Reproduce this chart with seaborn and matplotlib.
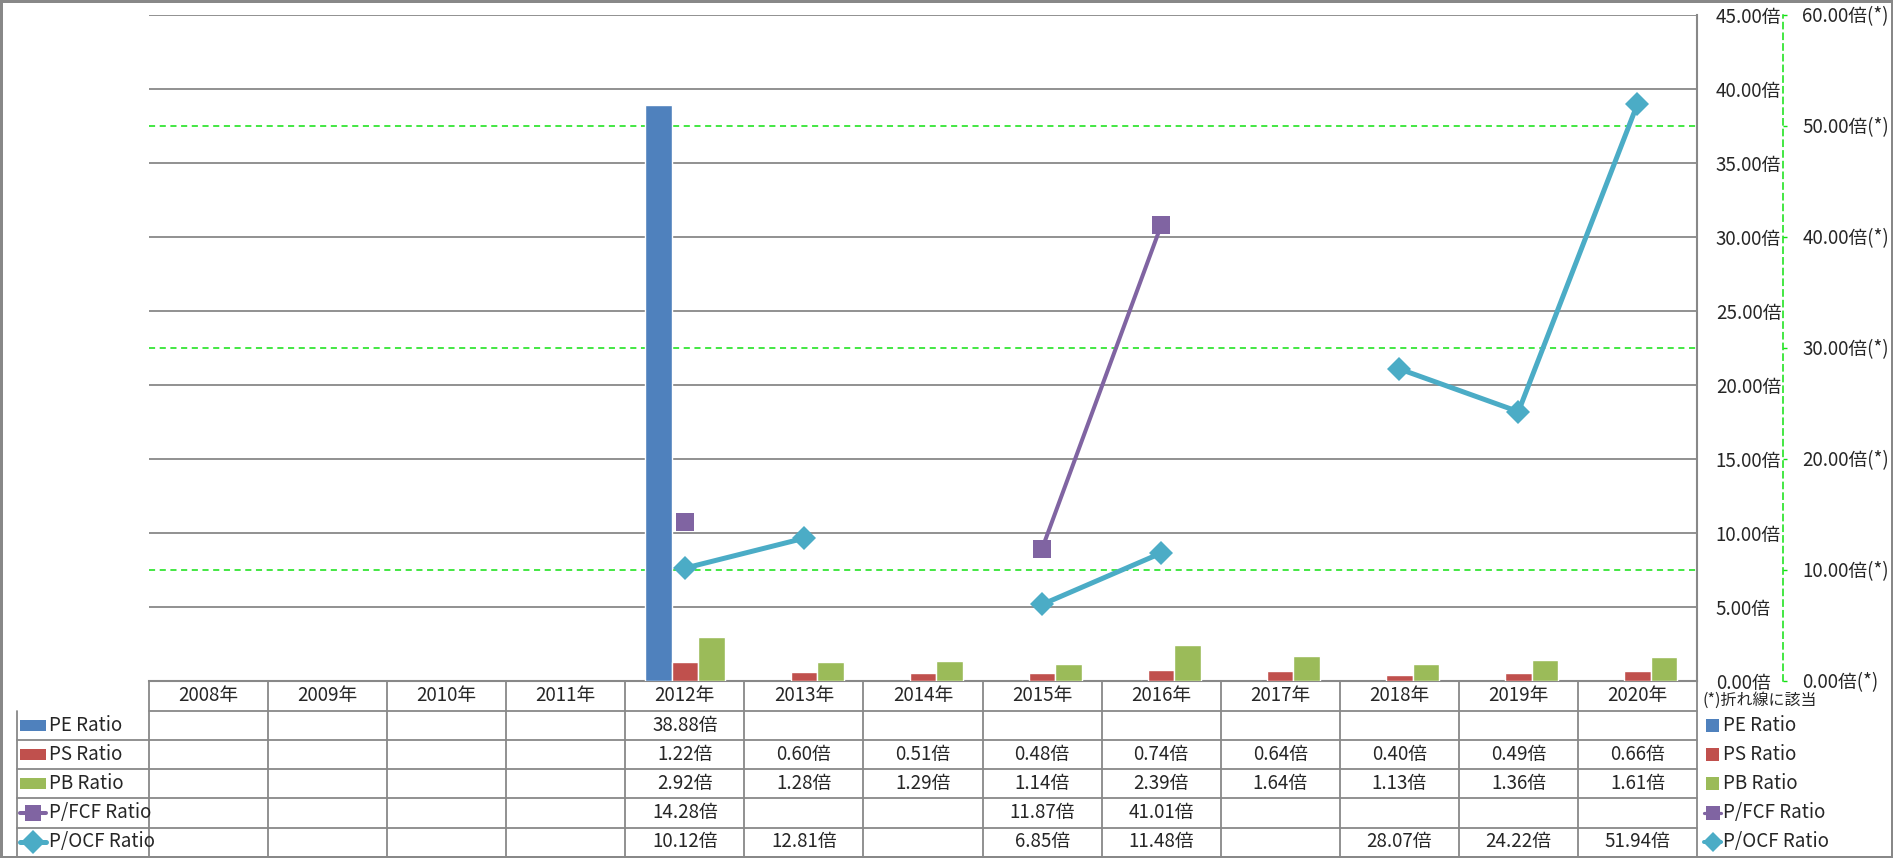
import numpy as np
import pandas as pd
import matplotlib
matplotlib.use("Agg")
import matplotlib.pyplot as plt
import seaborn as sns
from matplotlib.lines import Line2D
from matplotlib.patches import Rectangle
from matplotlib.ticker import FuncFormatter

# données
years = ["2008年", "2009年", "2010年", "2011年", "2012年", "2013年", "2014年",
         "2015年", "2016年", "2017年", "2018年", "2019年", "2020年"]
nan = np.nan
pe_ratio = [nan, nan, nan, nan, 38.88, nan, nan, nan, nan, nan, nan, nan, nan]
ps_ratio = [nan, nan, nan, nan, 1.22, 0.60, 0.51, 0.48, 0.74, 0.64, 0.40, 0.49, 0.66]
pb_ratio = [nan, nan, nan, nan, 2.92, 1.28, 1.29, 1.14, 2.39, 1.64, 1.13, 1.36, 1.61]
pfcf_ratio = [nan, nan, nan, nan, 14.28, nan, nan, 11.87, 41.01, nan, nan, nan, nan]
pocf_ratio = [nan, nan, nan, nan, 10.12, 12.81, nan, 6.85, 11.48, nan, 28.07, 24.22, 51.94]

bar_names = ["PE Ratio", "PS Ratio", "PB Ratio"]
bar_colors = ["#4F81BD", "#C0504D", "#9BBB59"]
line_names = ["P/FCF Ratio", "P/OCF Ratio"]
line_colors = ["#8064A2", "#4BACC6"]
line_markers = ["s", "D"]
line_widths = [2.9, 3.6]
line_values = [pfcf_ratio, pocf_ratio]

GRAY = "#888888"
GREEN = "#11E011"

sns.set_style("white")
plt.rcParams["font.family"] = ["Noto Sans CJK JP", "DejaVu Sans"]

W, H = 1893, 858
PL, PR, PT, PB = 149, 1697, 14.5, 680.5

fig = plt.figure(figsize=(W / 100, H / 100), dpi=100)
fig.patch.set_edgecolor(GRAY)
fig.patch.set_linewidth(2.5)

ax = fig.add_axes([PL / W, 1 - PB / H, (PR - PL) / W, (PB - PT) / H])

df = pd.DataFrame({"年": years, "PE Ratio": pe_ratio, "PS Ratio": ps_ratio, "PB Ratio": pb_ratio})
df = df.melt(id_vars="年", value_vars=bar_names, var_name="系列", value_name="倍率").dropna()

sns.barplot(data=df, x="年", y="倍率", hue="系列", order=years, hue_order=bar_names,
            palette=bar_colors, width=2 / 3, gap=0, saturation=1, errorbar=None,
            legend=False, ax=ax, zorder=3)

# axe secondaire pour les courbes
ax2 = ax.twinx()

ax.set_xlim(-0.5, len(years) - 0.5)
ax.set_ylim(0, 45)
ax.set_yticks(np.arange(0, 46, 5))
ax.yaxis.set_major_formatter(FuncFormatter(lambda v, p: f"{v:.2f}倍"))
ax.yaxis.tick_right()
ax.tick_params(axis="y", which="major", length=0, pad=13.5, labelsize=13.5,
               left=False, labelleft=False, right=True, labelright=True)
ax.tick_params(axis="x", length=0, labelbottom=False)
ax.set_xlabel("")
ax.set_ylabel("")
ax.set_axisbelow(True)
ax.grid(axis="y", which="major", color=GRAY, linewidth=1.3)
# lignes de grille de l'axe secondaire (10, 30, 50 -> échelle primaire)
ax.set_yticks(np.arange(10, 61, 20) * 45 / 60, minor=True)
ax.tick_params(axis="y", which="minor", length=0, labelright=False, labelleft=False)
ax.grid(axis="y", which="minor", color=GREEN, linewidth=1.1, linestyle=(0, (4, 3)))
for s in ["top", "left"]:
    ax.spines[s].set_visible(False)
for s in ["right", "bottom"]:
    ax.spines[s].set_color(GRAY)
    ax.spines[s].set_linewidth(1.5)

x = np.arange(len(years))
for vals, c, m, lw in zip(line_values, line_colors, line_markers, line_widths):
    ax2.plot(x, vals, color=c, marker=m, markersize=12.5, linewidth=lw,
             markeredgewidth=0, solid_capstyle="round")
ax2.set_ylim(0, 60)
ax2.set_yticks(np.arange(0, 61, 10))
ax2.yaxis.set_major_formatter(FuncFormatter(lambda v, p: f"{v:.2f}倍(*)"))
ax2.tick_params(axis="y", length=3, width=1, color=GREEN, pad=11, labelsize=13.5)
for s in ["top", "left", "bottom"]:
    ax2.spines[s].set_visible(False)
ax2.spines["right"].set_position(("outward", 86 * 0.72))
ax2.spines["right"].set_color(GREEN)
ax2.spines["right"].set_linestyle((0, (4, 3)))
ax2.spines["right"].set_linewidth(1.1)

# tableau de données sous le graphique
tab = fig.add_axes([0, 0, 1, 1])
tab.set_xlim(0, W)
tab.set_ylim(H, 0)
tab.axis("off")
tab.patch.set_alpha(0)

col_edges = np.linspace(PL, PR, len(years) + 1)
row_edges = [PB, 711, 740, 769, 798, 827.5, 856.5]
LX = 17

tab.plot([PL, PR], [row_edges[1], row_edges[1]], color=GRAY, lw=1.3)
for y in row_edges[2:]:
    tab.plot([LX, PR], [y, y], color=GRAY, lw=1.3)
tab.plot([LX, LX], [row_edges[1], row_edges[-1]], color=GRAY, lw=1.3)
for xe in col_edges:
    tab.plot([xe, xe], [row_edges[0], row_edges[-1]], color=GRAY, lw=1.3)

centers = (col_edges[:-1] + col_edges[1:]) / 2
hy = (row_edges[0] + row_edges[1]) / 2
for cx, yr in zip(centers, years):
    tab.text(cx, hy, yr, ha="center", va="center", fontsize=13.5)

all_names = bar_names + line_names
all_values = [pe_ratio, ps_ratio, pb_ratio, pfcf_ratio, pocf_ratio]
for i, (name, vals) in enumerate(zip(all_names, all_values)):
    yc = (row_edges[i + 1] + row_edges[i + 2]) / 2
    for cx, v in zip(centers, vals):
        if not np.isnan(v):
            tab.text(cx, yc, f"{v:.2f}倍", ha="center", va="center", fontsize=13.5)
    # légendes à gauche et à droite
    if i < 3:
        tab.add_patch(Rectangle((20, yc - 5.5), 26, 11, color=bar_colors[i], lw=0))
        tab.add_patch(Rectangle((1706, yc - 6.5), 13, 13, color=bar_colors[i], lw=0))
    else:
        j = i - 3
        tab.add_line(Line2D([20, 46], [yc, yc], color=line_colors[j], lw=line_widths[j]))
        tab.add_line(Line2D([33], [yc], color=line_colors[j], marker=line_markers[j],
                            markersize=12, markeredgewidth=0))
        tab.add_line(Line2D([1704, 1721], [yc, yc], color=line_colors[j], lw=line_widths[j] * 0.8))
        tab.add_line(Line2D([1712.5], [yc], color=line_colors[j], marker=line_markers[j],
                            markersize=10, markeredgewidth=0))
    tab.text(49, yc, name, ha="left", va="center", fontsize=13.5)
    tab.text(1723, yc, name, ha="left", va="center", fontsize=13.5)

tab.text(1702, 700, "(*)折れ線に該当", ha="left", va="center", fontsize=11.5)

fig.savefig("out.png", dpi=100)
